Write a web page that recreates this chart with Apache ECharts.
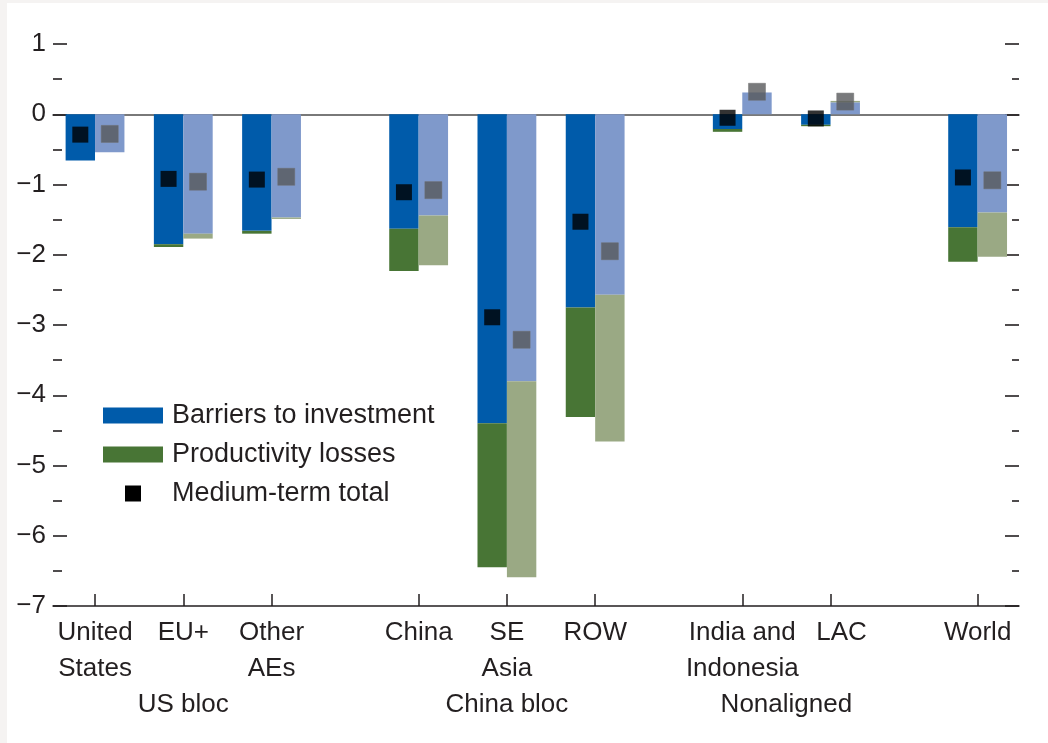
<!DOCTYPE html>
<html>
<head>
<meta charset="utf-8">
<script src="https://cdn.jsdelivr.net/npm/echarts@6/dist/echarts.min.js"></script>
<style>
html,body{margin:0;padding:0;background:#f5f3f2;}
#chart{position:absolute;left:7px;top:3px;width:1041px;height:740px;background:#ffffff;}
</style>
</head>
<body>
<div id="chart"></div>
<script>
// Region labels and their positions (in bar-width units from the first region)
var categories = ['United\nStates', 'EU+', 'Other\nAEs', 'China', 'SE\nAsia', 'ROW', 'India and\nIndonesia', 'LAC', 'World'];
var categoryUnits = [0, 3, 6, 11, 14, 17, 22, 25, 30];
var blocLabels = ['US bloc', 'China bloc', 'Nonaligned'];
var blocUnits = [3, 14, 23.5];

// Left (dark) bars
var barriersA = [-0.66, -1.85, -1.66, -1.63, -4.40, -2.75, -0.21, -0.15, -1.61];
var productivityA = [0, -0.04, -0.04, -0.60, -2.05, -1.56, -0.04, -0.02, -0.49];
var totalA = [-0.29, -0.92, -0.93, -1.11, -2.89, -1.53, -0.05, -0.06, -0.90];
// Right (light) bars
var barriersB = [-0.54, -1.70, -1.47, -1.44, -3.80, -2.57, 0.31, 0.17, -1.40];
var productivityB = [0, -0.07, -0.02, -0.71, -2.79, -2.09, 0, 0.02, -0.63];
var totalB = [-0.28, -0.96, -0.89, -1.08, -3.21, -1.95, 0.32, 0.18, -0.94];

// Build half-unit slots: tick at slot 2+2u, dark bar at slot-1, light at slot+1
var NSLOT = 65;
var slotLabels = [];
for (var i = 0; i < NSLOT; i++) slotLabels.push('');
var tickSlots = {};
categoryUnits.forEach(function (u, k) {
  var s = 2 + 2 * u;
  tickSlots[s] = true;
  slotLabels[s] = categories[k];
});
blocUnits.forEach(function (u, k) {
  var s = Math.round(2 + 2 * u);
  var lines = slotLabels[s] ? slotLabels[s].split('\n') : [];
  while (lines.length < 2) lines.push('');
  slotLabels[s] = lines.join('\n') + '\n' + blocLabels[k];
});
var slotData = slotLabels.map(function (lab) {
  if (lab === 'LAC') return {value: lab, textStyle: {padding: [0, 0, 0, 22]}};
  return lab;
});
function seriesData(vals, shift) {
  var arr = [];
  for (var i = 0; i < NSLOT; i++) arr.push('-');
  categoryUnits.forEach(function (u, k) { arr[2 + 2 * u + shift] = vals[k]; });
  return arr;
}

var textColor = '#231f20';
var font = "'Liberation Sans', Arial, sans-serif";

var chart = echarts.init(document.getElementById('chart'), null, {renderer: 'canvas'});
chart.setOption({
  animation: false,
  textStyle: {fontFamily: font, color: textColor},
  grid: [
    {left: 46, right: 29, top: 41, bottom: 137},
    {left: 51.25, right: 33.6, top: 41, bottom: 137}
  ],
  legend: {
    orient: 'vertical', left: 91, top: 394, itemWidth: 60, itemHeight: 16, itemGap: 12,
    textStyle: {fontSize: 27, color: textColor, fontFamily: font, padding: [0, 0, 0, 4]},
    data: [
      {name: 'Barriers to investment', icon: 'rect'},
      {name: 'Productivity losses', icon: 'rect'},
      {name: 'Medium-term total', icon: 'path://M0,0h10v10h-10z',
        itemStyle: {color: '#000000', borderWidth: 0, opacity: 1}}
    ],
    selectedMode: false
  },
  xAxis: [
    {gridIndex: 0, type: 'value', min: 1, max: 2, position: 'bottom',
      axisLine: {show: true, onZero: false, lineStyle: {color: textColor, width: 1.5}},
      axisTick: {show: false}, axisLabel: {show: false}, splitLine: {show: false}},
    {gridIndex: 0, type: 'value', min: 1, max: 2, position: 'top',
      axisLine: {show: true, onZero: true, onZeroAxisIndex: 0, lineStyle: {color: '#4d4d4d', width: 1.6}},
      axisTick: {show: false}, axisLabel: {show: false}, splitLine: {show: false}},
    {gridIndex: 1, type: 'category', data: slotData, position: 'bottom',
      axisLine: {show: false, onZero: false},
      axisTick: {show: true, inside: true, length: 12, alignWithLabel: true,
        interval: function (idx) { return !!tickSlots[idx]; },
        lineStyle: {color: textColor, width: 1.5}},
      axisLabel: {show: true, margin: 9, fontSize: 26, lineHeight: 36, color: textColor, fontFamily: font,
        interval: function (idx, val) { return val !== ''; }},
      splitLine: {show: false}}
  ],
  yAxis: [
    {gridIndex: 0, type: 'value', min: -7, max: 1, interval: 1, position: 'left',
      axisLine: {show: false, onZero: false},
      axisTick: {show: true, inside: true, length: 14, lineStyle: {color: textColor, width: 1.6}},
      minorTick: {show: true, splitNumber: 2, length: 9, lineStyle: {color: textColor, width: 1.6}},
      axisLabel: {margin: 7, fontSize: 26, color: textColor, fontFamily: font,
        formatter: function (v) { return v < 0 ? '\u2212' + Math.abs(v) : String(v); }},
      splitLine: {show: false}},
    {gridIndex: 0, type: 'value', min: -7, max: 1, interval: 1, position: 'right',
      axisLine: {show: false, onZero: false},
      axisTick: {show: true, inside: true, length: 14, lineStyle: {color: textColor, width: 1.6}},
      minorTick: {show: true, splitNumber: 2, length: 7, lineStyle: {color: textColor, width: 1.6}},
      axisLabel: {show: false}, splitLine: {show: false}},
    {gridIndex: 1, type: 'value', min: -7, max: 1, show: false, axisLine: {onZero: false}, splitLine: {show: false}}
  ],
  series: [
    {name: 'Barriers to investment', type: 'bar', xAxisIndex: 2, yAxisIndex: 2, stack: 'A',
      barWidth: 29.4, barGap: '-100%', itemStyle: {color: '#005baa'}, data: seriesData(barriersA, -1)},
    {name: 'Productivity losses', type: 'bar', xAxisIndex: 2, yAxisIndex: 2, stack: 'A',
      barWidth: 29.4, barGap: '-100%', itemStyle: {color: '#487535'}, data: seriesData(productivityA, -1)},
    {name: 'Barriers (light)', type: 'bar', xAxisIndex: 2, yAxisIndex: 2, stack: 'B',
      barWidth: 29.4, barGap: '-100%', itemStyle: {color: '#7f99cb'}, data: seriesData(barriersB, 1)},
    {name: 'Productivity (light)', type: 'bar', xAxisIndex: 2, yAxisIndex: 2, stack: 'B',
      barWidth: 29.4, barGap: '-100%', itemStyle: {color: '#9aa984'}, data: seriesData(productivityB, 1)},
    {name: 'Medium-term total', type: 'scatter', xAxisIndex: 2, yAxisIndex: 2, symbol: 'rect', symbolSize: 16,
      itemStyle: {color: '#000000'}, z: 5, data: seriesData(totalA, -1)},
    {name: 'Total (light)', type: 'scatter', xAxisIndex: 2, yAxisIndex: 2, symbol: 'rect', symbolSize: 17,
      itemStyle: {color: '#58595b', borderColor: '#6e6e6e', borderWidth: 0.6}, z: 5, data: seriesData(totalB, 1)}
  ]
});
</script>
</body>
</html>
